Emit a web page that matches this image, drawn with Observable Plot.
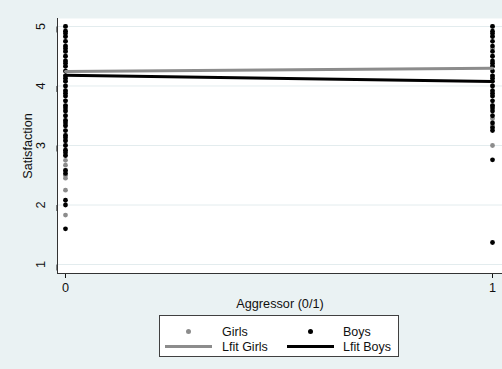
<!DOCTYPE html>
<html><head><meta charset="utf-8">
<script src="https://cdn.jsdelivr.net/npm/d3@7"></script>
<script src="https://cdn.jsdelivr.net/npm/@observablehq/plot@0.6"></script>
<style>
body{margin:0;background:#eaf2f3;font-family:"Liberation Sans",Arial,sans-serif;}
#wrap{position:relative;width:502px;height:369px;overflow:hidden;}
#chart svg{display:block;}
#legend{position:absolute;left:159px;top:315px;width:238px;height:40px;border:1px solid #404040;background:#fff;font-size:12.5px;color:#111;}
#legend .sym{position:absolute;}
#legend .lab{position:absolute;white-space:nowrap;line-height:14px;}
</style>
</head><body>
<div id="wrap"><div id="chart"></div><div id="legend"></div></div>
<script>
// Data
const girls0 = [1.83, 2.25, 2.45, 2.5, 2.58, 2.67, 2.75, 2.83, 2.92, 3.0, 3.08, 3.17, 3.25, 3.33, 3.42, 3.5, 3.58, 3.67, 3.75, 3.83, 3.92, 4.0, 4.08, 4.17, 4.25, 4.33, 4.42, 4.5, 4.58, 4.67, 4.75, 4.83, 4.92, 5.0];
const boys0 = [1.6, 2.0, 2.08, 2.53, 2.58, 2.83, 2.88, 2.92, 3.0, 3.08, 3.13, 3.17, 3.25, 3.33, 3.38, 3.42, 3.5, 3.58, 3.63, 3.67, 3.75, 3.83, 3.88, 3.92, 4.0, 4.08, 4.13, 4.17, 4.25, 4.33, 4.38, 4.42, 4.5, 4.58, 4.63, 4.67, 4.75, 4.83, 4.88, 4.92, 5.0];
const girls1 = [3.0, 3.33, 3.45, 3.67, 3.83, 4.0, 4.17, 4.33, 4.5, 4.63, 4.83, 5.0];
const boys1 = [1.37, 2.76, 3.25, 3.3, 3.38, 3.5, 3.58, 3.63, 3.67, 3.75, 3.83, 3.88, 3.92, 4.0, 4.08, 4.13, 4.17, 4.25, 4.33, 4.38, 4.42, 4.5, 4.58, 4.67, 4.75, 4.83, 4.88, 4.92, 5.0];
const fitX = [0, 1];
const fitGirlsY = [4.245, 4.30];
const fitBoysY = [4.18, 4.075];
const xTicks = [0, 1];
const yTicks = [1, 2, 3, 4, 5];
const xDomain = [-0.0187, 1.0234];
const yDomain = [0.849, 5.134];
const legendLabels = ["Girls", "Boys", "Lfit Girls", "Lfit Boys"];

const gray = "#8c8c8c", black = "#000";
const girls = [...girls0.map(y => ({x: 0, y})), ...girls1.map(y => ({x: 1, y}))];
const boys = [...boys0.map(y => ({x: 0, y})), ...boys1.map(y => ({x: 1, y}))];
const fitG = fitX.map((x, i) => ({x, y: fitGirlsY[i]}));
const fitB = fitX.map((x, i) => ({x, y: fitBoysY[i]}));

const chart = Plot.plot({
  width: 502, height: 312,
  marginLeft: 57, marginRight: 0, marginTop: 18, marginBottom: 39,
  x: {domain: xDomain},
  y: {domain: yDomain},
  style: {background: "transparent", fontFamily: "'Liberation Sans', Arial, sans-serif", fontSize: "12.7px", color: "#111"},
  marks: [
    Plot.frame({fill: "white", stroke: null}),
    Plot.gridY(yTicks, {stroke: "#e3ecee", strokeOpacity: 1}),
    Plot.dot(girls, {x: "x", y: "y", r: 2.4, fill: gray, stroke: null}),
    Plot.dot(boys, {x: "x", y: "y", r: 2.4, fill: black, stroke: null}),
    Plot.line(fitG, {x: "x", y: "y", stroke: gray, strokeWidth: 3}),
    Plot.line(fitB, {x: "x", y: "y", stroke: black, strokeWidth: 3}),
    Plot.axisY(yTicks, {tickSize: 6, tickPadding: 11, rotate: -90, textAnchor: "middle", tickFormat: d3.format("d"), label: "Satisfaction", labelAnchor: "center", labelArrow: "none", labelOffset: 35, fontSize: 12.7}),
    Plot.axisX(xTicks, {tickSize: 5, tickPadding: 4, tickFormat: d3.format("d"), label: "Aggressor (0/1)", labelAnchor: "center", labelArrow: "none", labelOffset: 34, fontSize: 12.7}),
    Plot.ruleX([xDomain[0]], {stroke: "#333"}),
    Plot.ruleY([yDomain[0]], {stroke: "#333"})
  ]
});
document.getElementById("chart").append(chart);

// Legend
const leg = document.getElementById("legend");
const items = [
  {label: legendLabels[0], kind: "dot", color: gray, col: 0, row: 0},
  {label: legendLabels[1], kind: "dot", color: black, col: 1, row: 0},
  {label: legendLabels[2], kind: "line", color: gray, col: 0, row: 1},
  {label: legendLabels[3], kind: "line", color: black, col: 1, row: 1}
];
const colSym = [5, 127], colLab = [62, 183], rowY = [9, 24];
for (const it of items) {
  const s = document.createElement("div");
  s.className = "sym";
  if (it.kind === "dot") {
    s.style.cssText = `left:${colSym[it.col] + 21}px;top:${rowY[it.row] + 4}px;width:5px;height:5px;border-radius:50%;background:${it.color}`;
  } else {
    s.style.cssText = `left:${colSym[it.col]}px;top:${rowY[it.row] + 5}px;width:47px;height:3px;background:${it.color}`;
  }
  leg.append(s);
  const l = document.createElement("div");
  l.className = "lab";
  l.style.left = colLab[it.col] + "px";
  l.style.top = rowY[it.row] + "px";
  l.textContent = it.label;
  leg.append(l);
}
</script>
</body></html>
